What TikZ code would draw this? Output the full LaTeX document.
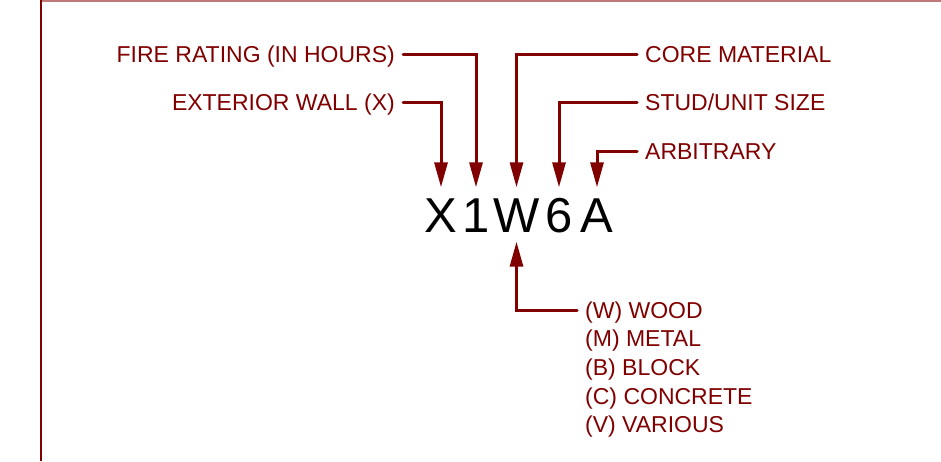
\documentclass[tikz,border=0pt]{standalone}
\usepackage{fontspec}
\setmainfont{Liberation Sans}
\usetikzlibrary{arrows.meta, positioning}
\definecolor{wallred}{HTML}{800000}
\definecolor{edgered}{HTML}{C07878}
\tikzset{
  codechar/.style = {font=\fontsize{49}{49}\selectfont, text=black,
                     text height=35pt, text depth=0pt,
                     inner xsep=0pt, inner ysep=9.5pt, anchor=base},
  keylbl/.style   = {font=\fontsize{23}{28.5}\selectfont, text=wallred,
                     text height=16pt, text depth=0pt,
                     inner xsep=8pt, inner ysep=0pt},
  lead/.style     = {wallred, line width=3pt, line cap=round,
                     -{Triangle[length=25pt, width=13pt]}},
}

\begin{document}
\begin{tikzpicture}[x=1pt, y=-1pt, node distance=12.3pt and 0pt]
    \useasboundingbox (0,0) rectangle (941,461);
    % frame
    \draw[edgered, line width=1.5pt] (41,1) -- (941,1);
    \draw[wallred, line width=2pt] (41,0) -- (41,461);

    % the wall code
    \node[codechar] (cX) at (441,232)   {X};
    \node[codechar] (c1) at (476,232)   {1};
    \node[codechar] (cW) at (516.5,232) {W};
    \node[codechar] (c6) at (559,232)   {6};
    \node[codechar] (cA) at (597,232)   {A};

    % keys, left and right
    \node[keylbl, anchor=east] (fire) at (403,54)  {FIRE RATING (IN HOURS)};
    \node[keylbl, anchor=east] (ext)  at (403,102) {EXTERIOR WALL (X)};
    \node[keylbl, anchor=west] (core) at (637,54)  {CORE MATERIAL};
    \node[keylbl, anchor=west] (stud) at (637,102) {STUD/UNIT SIZE};
    \node[keylbl, anchor=west] (arb)  at (637,151) {ARBITRARY};

    % materials
    \node[keylbl, anchor=west]                         (wood)  at (577,310) {(W) WOOD};
    \node[keylbl, below right=of wood.south west]      (metal) {(M) METAL};
    \node[keylbl, below right=of metal.south west]     (block) {(B) BLOCK};
    \node[keylbl, below right=of block.south west]     (conc)  {(C) CONCRETE};
    \node[keylbl, below right=of conc.south west]      (var)   {(V) VARIOUS};

    \draw[lead] (ext.east)  -| (cX.north);
    \draw[lead] (fire.east) -| (c1.north);
    \draw[lead] (core.west) -| (cW.north);
    \draw[lead] (stud.west) -| (c6.north);
    \draw[lead] (arb.west)  -| (cA.north);
    \draw[lead] (wood.west) -| (cW.south);
\end{tikzpicture}
\end{document}
